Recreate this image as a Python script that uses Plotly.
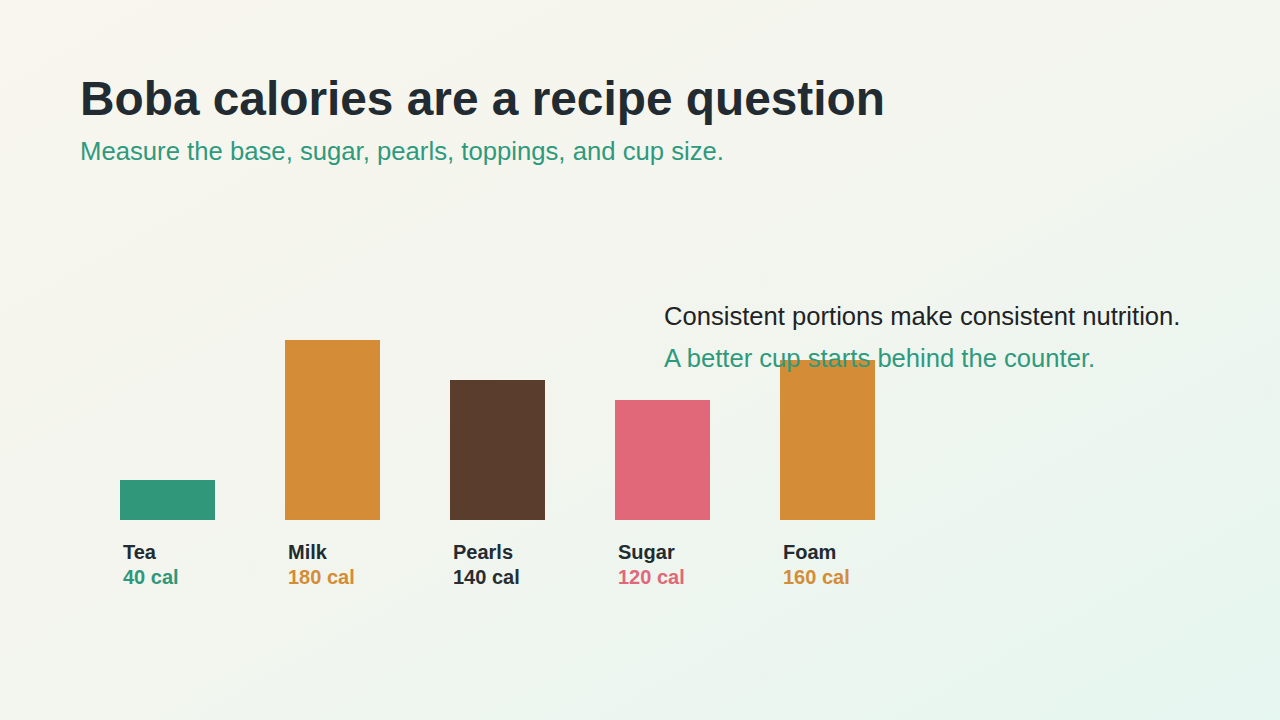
import plotly.graph_objects as go

categories = ["Tea", "Milk", "Pearls", "Sugar", "Foam"]
calories = [40, 180, 140, 120, 160]
colors = ["#31977a", "#d48c36", "#5b3d2e", "#e06879", "#d48c36"]
value_colors = ["#31977a", "#d48c36", "#2a2d30", "#e06879", "#d48c36"]

title = "Boba calories are a recipe question"
subtitle = "Measure the base, sugar, pearls, toppings, and cup size."
note1 = "Consistent portions make consistent nutrition."
note2 = "A better cup starts behind the counter."

W, H = 1280, 720
ML, MR, MT, MB = 85, 370, 320, 200
PW, PH = W - ML - MR, H - MT - MB
BAR_W = 95 / 165
FONT = "Liberation Sans, Arial, sans-serif"

def px(x):
    return (x - ML) / PW

def py(y):
    return (H - MB - y) / PH

xs = list(range(len(categories)))
fig = go.Figure(go.Bar(x=xs, y=calories, width=BAR_W, marker=dict(color=colors, line=dict(width=0)),
                       hoverinfo="skip"))

svg = ("data:image/svg+xml;utf8,<svg xmlns='http://www.w3.org/2000/svg' width='1280' height='720'>"
       "<defs><linearGradient id='g' x1='0' y1='0' x2='1' y2='1'>"
       "<stop offset='0' stop-color='%23f8f6ee'/><stop offset='0.45' stop-color='%23f3f5ee'/>"
       "<stop offset='1' stop-color='%23e6f6f0'/>"
       "</linearGradient></defs><rect width='1280' height='720' fill='url(%23g)'/></svg>")

ann = []
ann.append(dict(text=f"<b>{title}</b>", x=px(78), y=py(69.5), font=dict(size=47.8, color="#222b31", family=FONT)))
ann.append(dict(text=subtitle, x=px(78), y=py(134.5), font=dict(size=25.7, color="#2e9a7d", family=FONT)))
ann.append(dict(text=note1, x=px(662), y=py(299.5), font=dict(size=25.6, color="#1f2326", family=FONT)))
ann.append(dict(text=note2, x=px(662), y=py(341.5), font=dict(size=25.6, color="#2e9a7d", family=FONT)))
for a in ann:
    a.update(xref="paper", yref="paper", xanchor="left", yanchor="top", showarrow=False)

for i, (c, v) in enumerate(zip(categories, calories)):
    ann.append(dict(text=f"<b>{c}</b>", x=i - BAR_W / 2, y=0, xref="x", yref="y", xanchor="left", yanchor="top",
                    xshift=0.8, yshift=-18.5, showarrow=False, font=dict(size=20, color="#222b31", family=FONT)))
    ann.append(dict(text=f"<b>{v} cal</b>", x=i - BAR_W / 2, y=0, xref="x", yref="y", xanchor="left", yanchor="top",
                    xshift=0.8, yshift=-44, showarrow=False, font=dict(size=20, color=value_colors[i], family=FONT)))

fig.update_layout(
    width=W, height=H, margin=dict(l=ML, r=MR, t=MT, b=MB),
    paper_bgcolor="#f1f5ef", plot_bgcolor="rgba(0,0,0,0)",
    xaxis=dict(range=[-0.5, 4.5], visible=False, fixedrange=True),
    yaxis=dict(range=[0, 200], visible=False, fixedrange=True),
    showlegend=False, annotations=ann,
    images=[dict(source=svg, xref="paper", yref="paper", x=px(0), y=py(0), sizex=W / PW, sizey=H / PH,
                 xanchor="left", yanchor="top", sizing="stretch", layer="below")],
)
fig.write_html("out.html", config={"displayModeBar": False})
